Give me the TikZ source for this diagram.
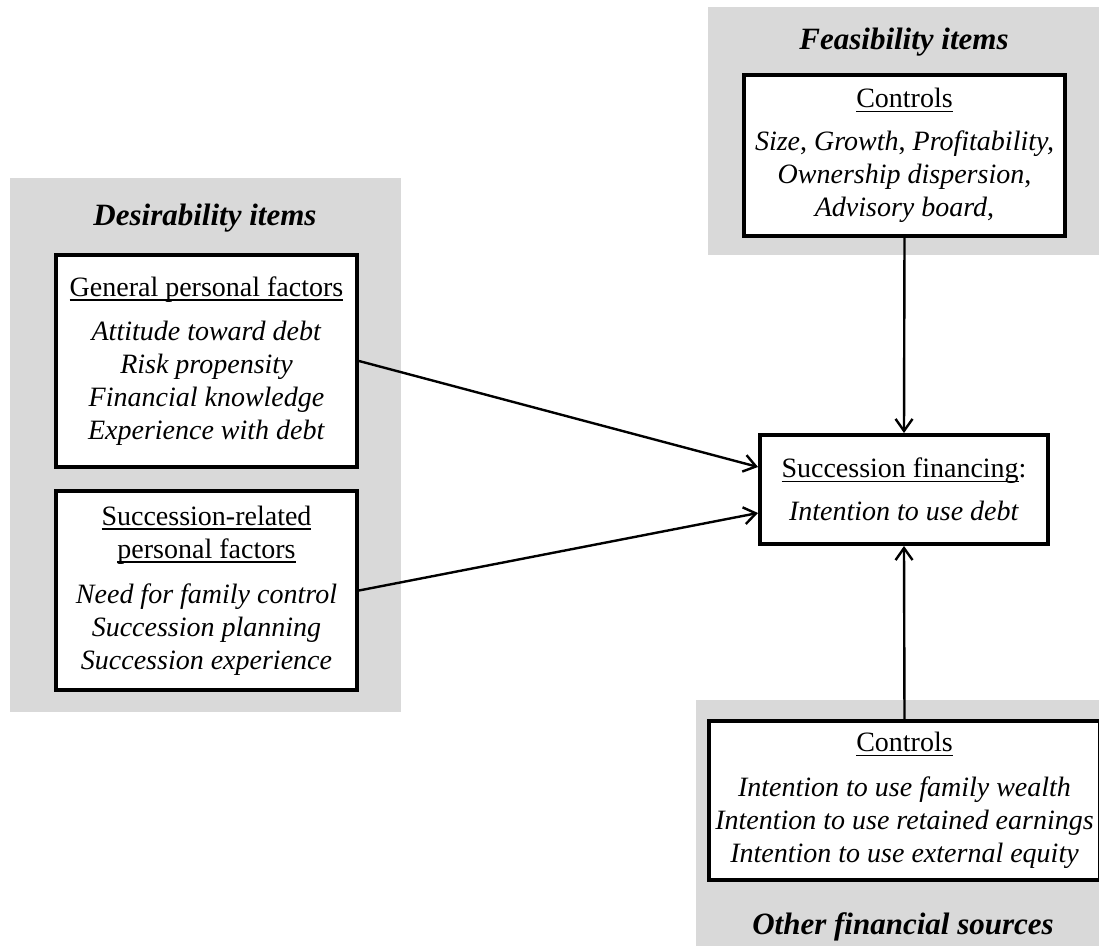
\documentclass[tikz,border=0pt]{standalone}
\usepackage{fontspec}
\setmainfont{Liberation Serif}
\usetikzlibrary{arrows.meta}
\definecolor{panelgray}{RGB}{217,217,217}
\newcommand{\uln}[1]{\setbox0\hbox{#1}\rlap{\rule[-2.2pt]{\wd0}{0.7pt}}\box0}
\begin{document}
\begin{tikzpicture}[x=0.5pt,y=-0.5pt,
  panel/.style={fill=panelgray},
  box/.style={draw, line width=2pt, fill=white, align=center, inner sep=0pt,
    font=\fontsize{14}{16.5}\selectfont},
  ttl/.style={font=\fontsize{15.5}{18}\selectfont\bfseries\itshape},
  arr/.style={line width=1.2pt, -{Straight Barb[length=6pt,width=8.5pt]}}]
\useasboundingbox (0,0) rectangle (1099,946);
\fill[white] (0,0) rectangle (1099,946);
% panels
\fill[panel] (10,178) rectangle (401,712);
\fill[panel] (708,7) rectangle (1099,255);
\fill[panel] (696,700) rectangle (1099,946);
% titles
\node[ttl] (destitle) at (205,218) {Desirability items};
\node[ttl] (feastitle) at (904,42) {Feasibility items};
\node[ttl] (othertitle) at (903,927) {Other financial sources};
% boxes
\node[box, minimum width=150.5pt, minimum height=106pt] (gen) at (206.5,361)
  {\uln{General personal factors}\\[5.5pt]
   \textit{Attitude toward debt}\\
   \textit{Risk propensity}\\
   \textit{Financial knowledge}\\
   \textit{Experience with debt}};
\node[box, minimum width=150.5pt, minimum height=99.5pt] (suc) at (206.5,590.5)
  {\uln{Succession-related}\\
   \uln{personal factors}\\[6pt]
   \textit{Need for family control}\\
   \textit{Succession planning}\\
   \textit{Succession experience}};
\node[box, minimum width=160.5pt, minimum height=80.5pt] (feas) at (904.5,155.5)
  {\uln{Controls}\\[5pt]
   \textit{Size}, \textit{Growth}, \textit{Profitability,}\\
   \textit{Ownership dispersion},\\
   \textit{Advisory board},};
\node[box, minimum width=144pt, minimum height=54.5pt] (fin) at (904,489.5)
  {\uln{Succession financing}:\\[5pt]
   \textit{Intention to use debt}};
\node[box, minimum width=195.5pt, minimum height=79.5pt] (other) at (904.5,800.5)
  {\uln{Controls}\\[6pt]
   \textit{Intention to use family wealth}\\
   \textit{Intention to use retained earnings}\\
   \textit{Intention to use external equity}};
% connectors
\draw[arr] (gen.east) -- ([yshift=11.25pt]fin.west);
\draw[arr] (suc.east) -- ([yshift=-11.75pt]fin.west);
\draw[arr] (feas.south) -- (fin.north);
\draw[arr] (other.north) -- (fin.south);
\end{tikzpicture}
\end{document}
